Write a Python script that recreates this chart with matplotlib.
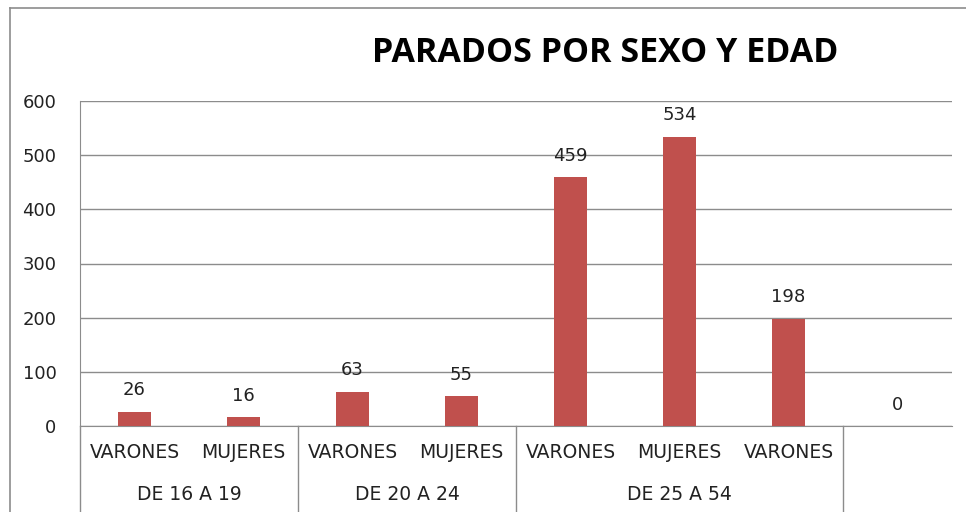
import matplotlib
matplotlib.use("Agg")
import matplotlib.pyplot as plt
from matplotlib.lines import Line2D
import matplotlib.transforms as mtransforms

title = "PARADOS POR SEXO Y EDAD"
sexes = ["VARONES", "MUJERES", "VARONES", "MUJERES", "VARONES", "MUJERES", "VARONES", ""]
groups = ["DE 16 A 19", "DE 20 A 24", "DE 25 A 54", ""]
group_sizes = [2, 2, 3, 1]
values = [26, 16, 63, 55, 459, 534, 198, 0]
yticks = [0, 100, 200, 300, 400, 500, 600]

W, H = 966, 512
fig = plt.figure(figsize=(W / 100, H / 100), dpi=100)
fig.patch.set_facecolor("white")

font = ["DejaVu Sans"]
gray = "#8c8c8c"

ax = fig.add_axes([80 / W, 1 - 426 / H, (952 - 80) / W, (426 - 101) / H])
x = list(range(len(values)))
ax.bar(x, values, width=0.31, color="#C0504D", zorder=3)
ax.set_xlim(-0.5, len(values) - 0.5)
ax.set_ylim(0, 600)
ax.set_yticks(yticks)
ax.set_yticklabels([str(t) for t in yticks], fontsize=13, family=font, color="#222222")
ax.tick_params(axis="y", length=0, pad=17)
ax.set_xticks([])
ax.grid(axis="y", color=gray, linewidth=1, zorder=0)
for s in ["top", "right"]:
    ax.spines[s].set_visible(False)
ax.spines["left"].set_color(gray)
ax.spines["bottom"].set_color(gray)

for xi, v in zip(x, values):
    ax.annotate(str(v), (xi, v), xytext=(0, 9), textcoords="offset points",
                ha="center", va="bottom", fontsize=13, family=font, color="#222222")

trans = mtransforms.blended_transform_factory(ax.transData, fig.transFigure)
for xi, s in zip(x, sexes):
    ax.text(xi, 1 - 453 / H, s, transform=trans, ha="center", va="center",
            fontsize=13.5, family=font, color="#222222")
start = 0
bounds = [-0.5]
for g, n in zip(groups, group_sizes):
    center = start + (n - 1) / 2
    ax.text(center, 1 - 495 / H, g, transform=trans, ha="center", va="center",
            fontsize=13.5, family=font, color="#222222")
    start += n
    bounds.append(start - 0.5)
for b in bounds[:-1]:
    ax.add_line(Line2D([b, b], [1 - 426 / H, 0], transform=trans, color=gray,
                       linewidth=1, clip_on=False))

fig.add_artist(Line2D([10 / W, 10 / W], [0, 1 - 8 / H], color=gray, linewidth=1.2))
fig.add_artist(Line2D([10 / W, 1], [1 - 8 / H, 1 - 8 / H], color=gray, linewidth=1.2))

fig.text(605 / W, 1 - 53 / H, title, ha="center", va="center", fontsize=24.5,
         fontweight="bold", family=["Open Sans", "DejaVu Sans"], color="black")

fig.savefig("out.png", dpi=100)
